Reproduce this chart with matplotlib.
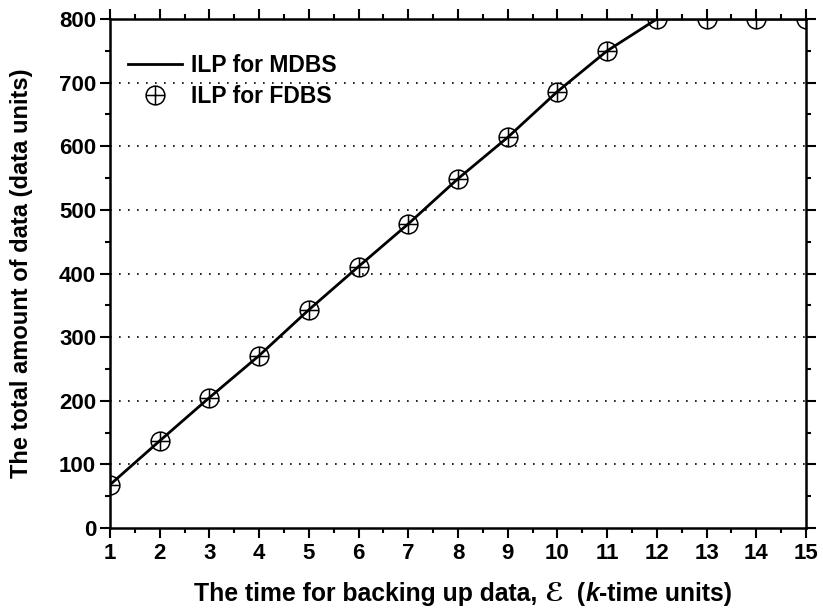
import matplotlib
matplotlib.use("Agg")
import matplotlib.pyplot as plt
import numpy as np
from matplotlib.path import Path
from matplotlib.offsetbox import TextArea, HPacker, AnchoredOffsetbox

x_vals = [1, 2, 3, 4, 5, 6, 7, 8, 9, 10, 11, 12, 13, 14, 15]
mdbs = [68, 137, 205, 271, 343, 411, 478, 549, 614, 686, 750, 800, 800, 800, 800]
fdbs = [68, 137, 205, 271, 343, 411, 478, 549, 614, 686, 750, 800, 800, 800, 800]
x_ticks = list(range(1, 16))
y_ticks = [0, 100, 200, 300, 400, 500, 600, 700, 800]
grid_levels = [100, 200, 300, 400, 500, 600, 700]

plt.rcParams['font.family'] = ['Liberation Sans', 'DejaVu Sans']
plt.rcParams['font.weight'] = 'bold'

fig = plt.figure(figsize=(8.23, 6.14), dpi=100)
ax = fig.add_axes([110/823, 1-528/614, (806-110)/823, (528-19)/614])

# circle-plus marker
circ = Path.unit_circle()
plus = Path([(-1, 0), (1, 0), (0, -1), (0, 1)],
            [Path.MOVETO, Path.LINETO, Path.MOVETO, Path.LINETO])
cplus = Path.make_compound_path(circ, plus)

for g in grid_levels:
    ax.axhline(g, color='black', lw=1.2, ls=(0, (1, 4.4)), zorder=1)

ax.plot(x_vals, mdbs, color='black', lw=2.0, label='ILP for MDBS', zorder=3)
ax.plot(x_vals, fdbs, ls='none', marker=cplus, ms=13.5, mfc='none', mec='black',
        mew=1.1, label='ILP for FDBS', zorder=4)

ax.set_xlim(1, 15)
ax.set_ylim(0, 800)
ax.set_xticks(x_ticks)
ax.set_yticks(y_ticks)
ax.set_xticks(np.arange(1.5, 15, 1), minor=True)
ax.set_yticks(np.arange(50, 800, 100), minor=True)
ax.tick_params(which='major', direction='out', length=7, width=1.5,
               labelsize=16, top=True, right=True, pad=3)
ax.tick_params(which='minor', direction='out', length=3.5, width=1.5,
               top=True, right=True)
ax.tick_params(axis='x', which='major', pad=4)
for lab in ax.get_xticklabels() + ax.get_yticklabels():
    lab.set_fontweight('bold')
for s in ax.spines.values():
    s.set_linewidth(1.8)

ax.set_ylabel('The total amount of data (data units)', fontsize=17,
              fontweight='bold')
ax.yaxis.set_label_coords((33-110)/696, 0.5)

# x label with script E and italic k
fs = 17.8
parts = [
    TextArea('The time for backing up data, ',
             textprops=dict(fontsize=fs, fontweight='bold')),
    TextArea('\u2130', textprops=dict(fontsize=fs+1, fontstyle='italic',
                                     family='DejaVu Sans')),
    TextArea('  (', textprops=dict(fontsize=fs, fontweight='bold')),
    TextArea('k', textprops=dict(fontsize=fs, fontweight='bold',
                                 fontstyle='italic')),
    TextArea('-time units)', textprops=dict(fontsize=fs, fontweight='bold')),
]
box = HPacker(children=parts, align='baseline', pad=0, sep=0)
anch = AnchoredOffsetbox(loc='center', child=box, frameon=False,
                         bbox_to_anchor=(463/823, 1-594/614),
                         bbox_transform=fig.transFigure, pad=0, borderpad=0)
fig.add_artist(anch)

leg = ax.legend(loc='upper left', bbox_to_anchor=(-0.004, 0.972), frameon=False,
                handlelength=2.35, handletextpad=0.4,
                labelspacing=0.35, prop=dict(weight='bold', size=16.5))

fig.savefig('out.png', dpi=100)
